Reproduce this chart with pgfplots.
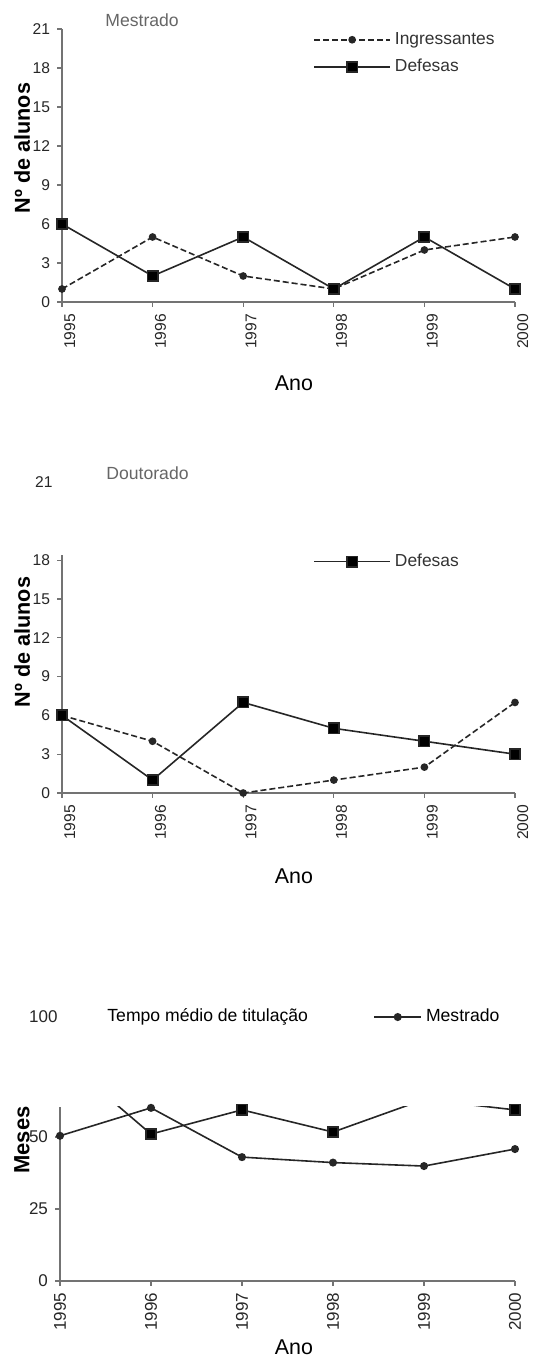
\documentclass[border=0pt]{standalone}
\usepackage{fontspec}
\setmainfont{Liberation Sans}
\usepackage{pgfplots}
\pgfplotsset{compat=1.18}
\definecolor{axgray}{gray}{0.45}
\definecolor{txtgray}{gray}{0.40}
\definecolor{lin}{gray}{0.15}

\pgfplotsset{
  base/.style={
    scale only axis,
    axis lines=left,
    axis line style={-, line width=1pt, draw=axgray},
    every tick/.style={draw=axgray, line width=0.6pt},
    major tick length=2.5pt,
    tick align=outside,
    xmin=1995, xmax=2000,
    xtick={1995,1996,1997,1998,1999,2000},
    xticklabels={1995,1996,1997,1998,1999,2000},
    xticklabel style={rotate=90, anchor=east, font=\fontsize{7.8}{9}\selectfont, text=black!85},
    yticklabel style={font=\fontsize{7.8}{9}\selectfont, text=black!85},
    /pgf/number format/assume math mode=true,
    legend style={draw=none, fill=none, inner sep=0pt, font=\fontsize{8.7}{10}\selectfont, text=black!80, row sep=2pt},
    legend cell align=left,
    legend image code/.code={\draw[mark repeat=2,mark phase=2,##1] plot coordinates {(0pt,0pt) (19pt,0pt) (38pt,0pt)};},
  },
  ingr/.style={lin, line width=0.8pt, dash pattern=on 3pt off 1.5pt, mark=*, mark size=1.5pt, mark options={solid, fill=lin}},
  def/.style={lin, line width=0.8pt, mark=square*, mark size=2.6pt, mark options={solid, fill=black}},
}

\begin{document}
\begin{tikzpicture}
\useasboundingbox (0,0) rectangle (270pt,680pt);

% ---------------- Panel 1: Mestrado ----------------
\begin{axis}[base,
  at={(31pt,529pt)}, anchor=south west,
  width=226.5pt, height=136.5pt,
  ymin=0, ymax=21, ytick={0,3,...,21},
  xticklabel style={yshift=-3.9pt},
  xlabel={Ano},
  xlabel style={at={(axis description cs:0.512,-0.297)}, anchor=center, font=\fontsize{10.7}{12}\selectfont},
  ylabel={Nº de alunos},
  ylabel style={at={(axis description cs:-0.088,0.564)}, anchor=center, font=\bfseries\fontsize{10.8}{12}\selectfont},
  legend style={at={(axis description cs:0.554,0.910)}, anchor=west},
  clip=false,
]
\addplot[ingr] coordinates {(1995,1) (1996,5) (1997,2) (1998,1) (1999,4) (2000,5)};
\addlegendentry{Ingressantes}
\addplot[def] coordinates {(1995,6) (1996,2) (1997,5) (1998,1) (1999,5) (2000,1)};
\addlegendentry{Defesas}
\end{axis}
\node[anchor=west, inner sep=0pt, font=\fontsize{8.8}{10}\selectfont, text=txtgray] at (52.5pt,670pt) {Mestrado};

% ---------------- Panel 2: Doutorado ----------------
\begin{axis}[base,
  at={(31pt,283.5pt)}, anchor=south west,
  width=226.5pt, height=119pt,
  ymin=0, ymax=18.4, ytick={0,3,...,18},
  xticklabel style={yshift=-3.9pt},
  xlabel={Ano},
  xlabel style={at={(axis description cs:0.512,-0.349)}, anchor=center, font=\fontsize{10.7}{12}\selectfont},
  ylabel={Nº de alunos},
  ylabel style={at={(axis description cs:-0.088,0.634)}, anchor=center, font=\bfseries\fontsize{10.8}{12}\selectfont},
  legend style={at={(axis description cs:0.554,0.972)}, anchor=west},
  clip=false,
]
\addplot[ingr, forget plot] coordinates {(1995,6) (1996,4) (1997,0) (1998,1) (1999,2) (2000,7)};
\addplot[def] coordinates {(1995,6) (1996,1) (1997,7) (1998,5) (1999,4) (2000,3)};
\addlegendentry{Defesas}
\end{axis}
\node[anchor=west, inner sep=0pt, font=\fontsize{8.8}{10}\selectfont, text=txtgray] at (53pt,443.5pt) {Doutorado};
\node[anchor=east, inner sep=0pt, font=\fontsize{7.8}{9}\selectfont, text=black!85] at (26.5pt,439pt) {21};

% ---------------- Panel 3: Tempo medio ----------------
\begin{axis}[base,
  at={(30pt,39.5pt)}, anchor=south west,
  width=227.5pt, height=87pt,
  ymin=0, ymax=60.4, ytick={0,25,50},
  xticklabel style={font=\fontsize{8.5}{10}\selectfont},
  yticklabel style={font=\fontsize{8.5}{10}\selectfont},
  xlabel={Ano},
  xlabel style={at={(axis description cs:0.514,-0.379)}, anchor=center, font=\fontsize{10.7}{12}\selectfont},
  ylabel={Meses},
  ylabel style={at={(axis description cs:-0.0835,0.81)}, anchor=center, font=\bfseries\fontsize{11}{12}\selectfont},
  legend style={at={(axis description cs:0.688,1.517)}, anchor=west, font=\fontsize{8.8}{10}\selectfont, text=black},
  legend image code/.code={\draw[mark repeat=2,mark phase=2,#1] plot coordinates {(0pt,0pt) (11.75pt,0pt) (23.5pt,0pt)};},
  clip=true,
]
\addplot[lin, line width=0.8pt, mark=*, mark size=1.6pt, mark options={fill=lin}] coordinates {(1995,50.4) (1996,60.1) (1997,43) (1998,41.1) (1999,39.9) (2000,45.8)};
\addlegendentry{Mestrado}
\addplot[def, forget plot] coordinates {(1995,78) (1996,51) (1997,59.4) (1998,51.7) (1999,63) (2000,59.4)};
\end{axis}
\node[anchor=west, inner sep=0pt, font=\fontsize{8.8}{10}\selectfont] at (53.5pt,171.5pt) {Tempo médio de titulação};
\node[anchor=east, inner sep=0pt, font=\fontsize{8.5}{10}\selectfont, text=black!85] at (29pt,171.5pt) {100};
\end{tikzpicture}
\end{document}
